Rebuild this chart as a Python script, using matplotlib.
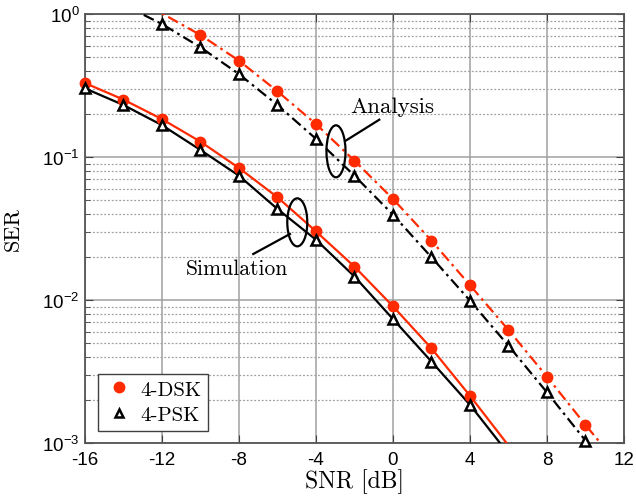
import numpy as np
import matplotlib
matplotlib.use("Agg")
import matplotlib.pyplot as plt
from matplotlib.patches import Ellipse
from matplotlib.ticker import FixedLocator, LogLocator, NullFormatter

# SNR grid [dB]
snr_sim = [-16, -14, -12, -10, -8, -6, -4, -2, 0, 2, 4, 6]
snr_ana = [-14, -12, -10, -8, -6, -4, -2, 0, 2, 4, 6, 8, 10, 12]

# Simulated symbol error rates
ser_sim_dsk = [0.329, 0.252, 0.184, 0.128, 0.0838, 0.0523, 0.0302, 0.0171,
               0.00904, 0.00459, 0.00214, 0.00096]
ser_sim_psk = [0.302, 0.231, 0.167, 0.112, 0.074, 0.0433, 0.0264, 0.0146,
               0.00736, 0.00371, 0.00185, 0.00084]

# Analytical symbol error rates
ser_ana_dsk = [1.30, 1.01, 0.713, 0.472, 0.288, 0.170, 0.0942, 0.0509,
               0.026, 0.0127, 0.00617, 0.00291, 0.00134, 0.00063]
ser_ana_psk = [1.16, 0.851, 0.585, 0.380, 0.231, 0.134, 0.074, 0.0395,
               0.0199, 0.0099, 0.00479, 0.00226, 0.00104, 0.00045]

x_ticks = [-16, -12, -8, -4, 0, 4, 8, 12]
y_ticks = [1e-3, 1e-2, 1e-1, 1e0]
y_tick_labels = [r"$\mathregular{10^{-3}}$", r"$\mathregular{10^{-2}}$",
                 r"$\mathregular{10^{-1}}$", r"$\mathregular{10^{0}}$"]

RED = "#ff2a00"
SERIF = "cmr10"
SANS = "Liberation Sans"
YMIN, YMAX = 1e-3, 1.0
LW = 1.6

plt.rcParams["axes.unicode_minus"] = False

fig = plt.figure(figsize=(6.36, 5.02), dpi=100)
ax = fig.add_axes([0.1336, 0.1155, 0.8475, 0.8546])
ax.set_yscale("log")
ax.set_xlim(-16, 12)
ax.set_ylim(YMIN, YMAX)


def visible(x, y):
    x = np.asarray(x, float)
    y = np.asarray(y, float)
    keep = (y >= YMIN) & (y <= YMAX * 0.999)
    return x[keep], y[keep]


# curves (lines first, markers only where the point lies inside the axes)
dashdot = (5, 2, 1.2, 2)
ax.plot(snr_sim, ser_sim_dsk, "-", color=RED, lw=LW, zorder=3)
ax.plot(snr_sim, ser_sim_psk, "-", color="black", lw=LW, zorder=3)
ax.plot(snr_ana, ser_ana_dsk, color=RED, lw=LW, zorder=3, ls=(0, dashdot))
ax.plot(snr_ana, ser_ana_psk, color="black", lw=LW, zorder=3, ls=(0, dashdot))

for xs, ys in ((snr_sim, ser_sim_dsk), (snr_ana, ser_ana_dsk)):
    vx, vy = visible(xs, ys)
    ax.plot(vx, vy, "o", ls="none", ms=7.5, mfc=RED, mec=RED, zorder=4,
            clip_on=False)
for xs, ys in ((snr_sim, ser_sim_psk), (snr_ana, ser_ana_psk)):
    vx, vy = visible(xs, ys)
    ax.plot(vx, vy, "^", ls="none", ms=6.5, mfc="white", mec="black", mew=1.8,
            zorder=5, clip_on=False)

# grid
ax.xaxis.set_major_locator(FixedLocator(x_ticks))
ax.yaxis.set_major_locator(FixedLocator(y_ticks))
ax.yaxis.set_minor_locator(LogLocator(base=10, subs=np.arange(2, 10)))
ax.yaxis.set_minor_formatter(NullFormatter())
ax.set_yticklabels(y_tick_labels)
ax.grid(True, which="major", axis="both", color="#a0a0a0", lw=1.1, ls="-")
ax.grid(True, which="minor", axis="y", color="#a0a0a0", lw=0.9, ls=(0, (1.5, 1.5)))
ax.set_axisbelow(True)

ax.tick_params(which="both", direction="in", top=True, right=True,
               color="#404040", labelsize=13.5)
ax.tick_params(axis="x", pad=6)
ax.tick_params(axis="y", pad=4)
ax.tick_params(which="major", length=6)
ax.tick_params(which="minor", length=3.5)
for lab in ax.get_xticklabels() + ax.get_yticklabels():
    lab.set_fontfamily(SANS)
for sp in ax.spines.values():
    sp.set_color("#555555")
    sp.set_linewidth(1.3)

ax.set_xlabel("SNR [dB]", fontfamily=SERIF, fontsize=17, labelpad=0)
ax.set_ylabel("SER", fontfamily=SERIF, fontsize=16, labelpad=14)

# legend (markers only)
h1, = ax.plot([], [], "o", ls="none", ms=7.5, mfc=RED, mec=RED)
h2, = ax.plot([], [], "^", ls="none", ms=5.5, mfc="white", mec="black", mew=1.8)
leg = ax.legend([h1, h2], ["4-DSK", "4-PSK"], loc="lower left",
                bbox_to_anchor=(0.0236, 0.0287), borderaxespad=0,
                prop={"family": SERIF, "size": 15}, frameon=True,
                fancybox=False, edgecolor="#404040", framealpha=1,
                handlelength=1.4, handletextpad=0.35, borderpad=0.3,
                labelspacing=0.35)
leg.get_frame().set_linewidth(1.0)

# annotations
ta = ax.transAxes
ax.add_patch(Ellipse((0.4657, 0.680), 0.0353, 0.1212, transform=ta,
                     fill=False, ec="black", lw=LW, zorder=6))
ax.plot([0.4837, 0.546], [0.7047, 0.7536], transform=ta, color="black",
        lw=LW, zorder=6)
ax.text(0.5692, 0.7848, "Analysis", transform=ta, ha="center", va="center",
        fontfamily=SERIF, fontsize=16.5, zorder=6)

ax.add_patch(Ellipse((0.3939, 0.5144), 0.0371, 0.1119, transform=ta,
                     fill=False, ec="black", lw=LW, zorder=6))
ax.plot([0.3803, 0.3122], [0.4872, 0.4406], transform=ta, color="black",
        lw=LW, zorder=6)
ax.text(0.2826, 0.4072, "Simulation", transform=ta, ha="center", va="center",
        fontfamily=SERIF, fontsize=15.5, zorder=6)

fig.savefig("out.png", dpi=100, facecolor="white")
